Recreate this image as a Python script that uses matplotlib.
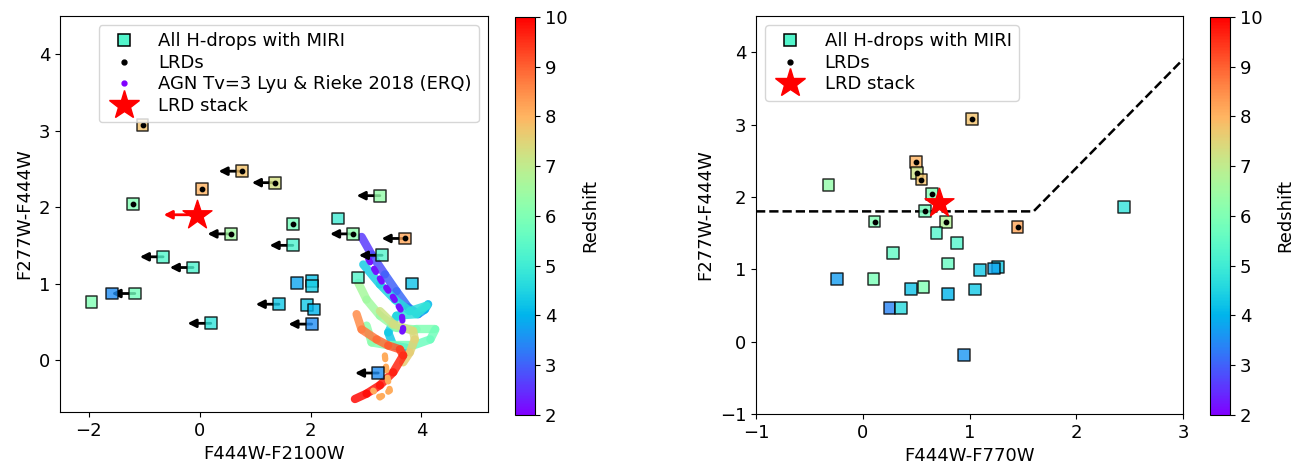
import numpy as np
import matplotlib
matplotlib.use("Agg")
import matplotlib.pyplot as plt
from matplotlib.collections import LineCollection
from matplotlib.lines import Line2D

plt.rcParams["font.family"] = "DejaVu Sans"
plt.rcParams["font.size"] = 13

cmap = plt.get_cmap("rainbow")
norm = plt.Normalize(2, 10)

# F444W-F2100W vs F277W-F444W
x_left = [-1.03, 0.76, 1.36, 0.04, -1.21, 3.25, 2.49, 1.68, 0.56, 2.77, 3.70, 1.68, -0.66, -0.12, 3.29,
          2.86, 3.83, 1.75, 2.02, 2.02, -1.17, -1.58, -1.95, 1.43, 1.94, 2.06, 0.20, 2.02, 3.22]
y_left = [3.07, 2.47, 2.32, 2.24, 2.04, 2.15, 1.85, 1.78, 1.65, 1.65, 1.59, 1.50, 1.35, 1.21, 1.37,
          1.08, 1.00, 1.01, 1.03, 0.97, 0.87, 0.87, 0.76, 0.73, 0.72, 0.66, 0.48, 0.47, -0.17]
z_left = [7.8, 7.8, 7.3, 8.0, 6.0, 6.3, 5.0, 5.8, 6.5, 6.2, 8.2, 5.2, 5.3, 5.2, 5.3,
          5.3, 4.2, 3.8, 4.2, 4.4, 5.8, 3.5, 6.0, 4.3, 4.3, 4.0, 4.8, 3.5, 3.5]
lrd_left = [1, 1, 1, 1, 1, 0, 0, 1, 1, 1, 1, 0, 0, 0, 0,
            0, 0, 0, 0, 0, 0, 0, 0, 0, 0, 0, 0, 0, 0]
uplim_left = [0, 1, 1, 0, 0, 1, 0, 0, 1, 1, 1, 1, 1, 1, 1,
              0, 0, 0, 0, 0, 1, 0, 0, 1, 0, 0, 1, 1, 1]
stack_left = (-0.05, 1.90)

# F444W-F770W vs F277W-F444W
x_right = [1.02, 0.50, 0.51, 0.55, -0.32, 0.65, 2.45, 0.58, 0.11, 0.78, 1.45, 0.69, 0.88, 0.28,
           0.80, 1.10, 1.27, 1.23, -0.24, 0.10, 0.57, 0.45, 1.05, 0.80, 0.25, 0.36, 0.95]
y_right = [3.08, 2.48, 2.33, 2.24, 2.16, 2.04, 1.86, 1.80, 1.66, 1.65, 1.58, 1.50, 1.36, 1.22,
           1.08, 0.99, 1.03, 1.01, 0.87, 0.87, 0.76, 0.73, 0.72, 0.66, 0.47, 0.47, -0.18]
z_right = [7.8, 8.0, 7.2, 7.8, 6.3, 6.0, 4.8, 5.8, 6.0, 6.8, 8.2, 5.3, 5.3, 5.5,
           5.6, 4.3, 4.3, 3.8, 3.7, 5.9, 6.0, 4.2, 4.3, 4.0, 3.4, 4.6, 3.6]
lrd_right = [1, 1, 1, 1, 0, 1, 0, 1, 1, 1, 1, 0, 0, 0,
             0, 0, 0, 0, 0, 0, 0, 0, 0, 0, 0, 0, 0]
stack_right = (0.71, 1.92)

# selection boundary
cut_x = [-1, 1.6, 3]
cut_y = [1.8, 1.8, 3.9]

# AGN template tracks (Lyu & Rieke 2018, Tv=3), colour vs redshift
tracks = [
    ([2.92, 3.10, 3.34, 3.55, 3.76, 3.94, 4.06, 4.12],
     [1.61, 1.38, 1.12, 0.90, 0.69, 0.60, 0.66, 0.73],
     [2.6, 2.8, 3.0, 3.1, 3.3, 3.6, 4.0, 4.3]),
    ([2.95, 3.25, 3.52, 3.79, 4.09, 3.91, 3.55, 3.40, 3.49, 3.73],
     [1.25, 0.99, 0.79, 0.64, 0.71, 0.60, 0.58, 0.36, 0.19, 0.16],
     [4.4, 4.5, 4.6, 4.7, 4.8, 4.7, 4.5, 4.3, 4.1, 4.0]),
    ([2.86, 3.01, 3.25, 3.55, 3.91, 4.25, 4.16, 3.85, 3.43, 3.10, 3.01],
     [1.01, 0.79, 0.58, 0.42, 0.40, 0.40, 0.27, 0.19, 0.19, 0.23, 0.45],
     [6.6, 6.5, 6.4, 6.2, 6.0, 5.8, 5.7, 5.8, 6.0, 6.2, 6.3]),
    ([3.25, 3.49, 3.85, 3.88, 3.79, 3.67],
     [0.64, 0.47, 0.38, 0.27, 0.10, -0.03],
     [7.2, 7.3, 7.4, 7.5, 7.6, 7.7]),
    ([2.83, 2.92, 3.19, 3.40, 3.61, 3.67, 3.49, 3.25, 3.01, 2.80],
     [0.60, 0.40, 0.27, 0.19, 0.14, 0.06, -0.16, -0.33, -0.44, -0.51],
     [8.5, 8.7, 8.9, 9.1, 9.4, 9.6, 9.7, 9.8, 9.9, 10.0]),
]
dotted_tracks = [
    ([3.04, 3.28, 3.49, 3.64, 3.67, 3.61], [1.32, 1.03, 0.82, 0.64, 0.40, 0.30], 2.2),
    ([3.34, 3.37, 3.43, 3.25, 3.13], [0.06, -0.16, -0.40, -0.49, -0.40], 8.1),
]

fig = plt.figure(figsize=(13.01, 4.72), dpi=100)
ax1 = fig.add_axes([0.0461, 0.1271, 0.3290, 0.8390])
cax1 = fig.add_axes([0.3958, 0.1208, 0.0154, 0.8432])
ax2 = fig.add_axes([0.5811, 0.1229, 0.3282, 0.8432])
cax2 = fig.add_axes([0.9300, 0.1208, 0.0154, 0.8432])


def draw_sources(ax, xs, ys, zs, lrd):
    sc = ax.scatter(xs, ys, c=zs, cmap=cmap, norm=norm, marker="s", s=72,
                    edgecolors="k", linewidths=1.1, alpha=0.8, zorder=4)
    lx = [x for x, f in zip(xs, lrd) if f]
    ly = [y for y, f in zip(ys, lrd) if f]
    ax.scatter(lx, ly, c="k", s=10, zorder=5)
    return sc


# left panel
for tx, ty, tz in tracks:
    pts = np.column_stack([tx, ty])
    segs = np.stack([pts[:-1], pts[1:]], axis=1)
    lc = LineCollection(segs, colors=cmap(norm(np.array(tz[:-1]))), linewidths=6,
                        capstyle="round", joinstyle="round", alpha=0.85, zorder=2)
    ax1.add_collection(lc)
for tx, ty, tz in dotted_tracks:
    ax1.plot(tx, ty, color=cmap(norm(tz)), lw=4.5, ls=(0, (0.6, 1.2)),
             dash_capstyle="round", zorder=2.5)

for x, y, f in zip(x_left, y_left, uplim_left):
    if f:
        ax1.annotate("", xy=(x - 0.42, y), xytext=(x, y),
                     arrowprops=dict(arrowstyle="-|>", color="k", lw=2, mutation_scale=12,
                                     shrinkA=0, shrinkB=0), zorder=3)
ax1.annotate("", xy=(stack_left[0] - 0.6, stack_left[1]), xytext=stack_left,
             arrowprops=dict(arrowstyle="-|>", color="red", lw=2, mutation_scale=12,
                             shrinkA=0, shrinkB=0), zorder=3)
sc1 = draw_sources(ax1, x_left, y_left, z_left, lrd_left)
ax1.scatter(*stack_left, marker="*", s=480, c="red", zorder=6)

ax1.set_xlim(-2.52, 5.2)
ax1.set_ylim(-0.68, 4.5)
ax1.set_xticks([-2, 0, 2, 4])
ax1.set_yticks([0, 1, 2, 3, 4])
ax1.set_xlabel("F444W-F2100W")
ax1.set_ylabel("F277W-F444W")

handles1 = [
    Line2D([], [], ls="", marker="s", ms=8.5, mfc=cmap(norm(5.3)), mec="k", mew=1.1),
    Line2D([], [], ls="", marker="o", ms=3.5, color="k"),
    Line2D([], [], ls="", marker="o", ms=3.5, color=cmap(norm(2.0))),
    Line2D([], [], ls="", marker="*", ms=22, color="red"),
]
ax1.legend(handles1, ["All H-drops with MIRI", "LRDs", "AGN Tv=3 Lyu & Rieke 2018 (ERQ)", "LRD stack"],
           loc="upper right", fontsize=13, handletextpad=0.9, labelspacing=0.2, borderpad=0.4)

cb1 = fig.colorbar(sc1, cax=cax1)
cb1.solids.set_alpha(1)
cb1.set_label("Redshift", labelpad=10)

# right panel
ax2.plot(cut_x, cut_y, "k--", lw=1.8, zorder=1)
sc2 = draw_sources(ax2, x_right, y_right, z_right, lrd_right)
ax2.scatter(*stack_right, marker="*", s=480, c="red", zorder=6)

ax2.set_xlim(-1, 3)
ax2.set_ylim(-1, 4.5)
ax2.set_xticks([-1, 0, 1, 2, 3])
ax2.set_yticks([-1, 0, 1, 2, 3, 4])
ax2.set_xlabel("F444W-F770W")
ax2.set_ylabel("F277W-F444W")

handles2 = [handles1[0], handles1[1], handles1[3]]
ax2.legend(handles2, ["All H-drops with MIRI", "LRDs", "LRD stack"],
           loc="upper left", fontsize=13, handletextpad=0.9, labelspacing=0.2, borderpad=0.4)

cb2 = fig.colorbar(sc2, cax=cax2)
cb2.solids.set_alpha(1)
cb2.set_label("Redshift", labelpad=10)

fig.savefig("out.png", dpi=100)
